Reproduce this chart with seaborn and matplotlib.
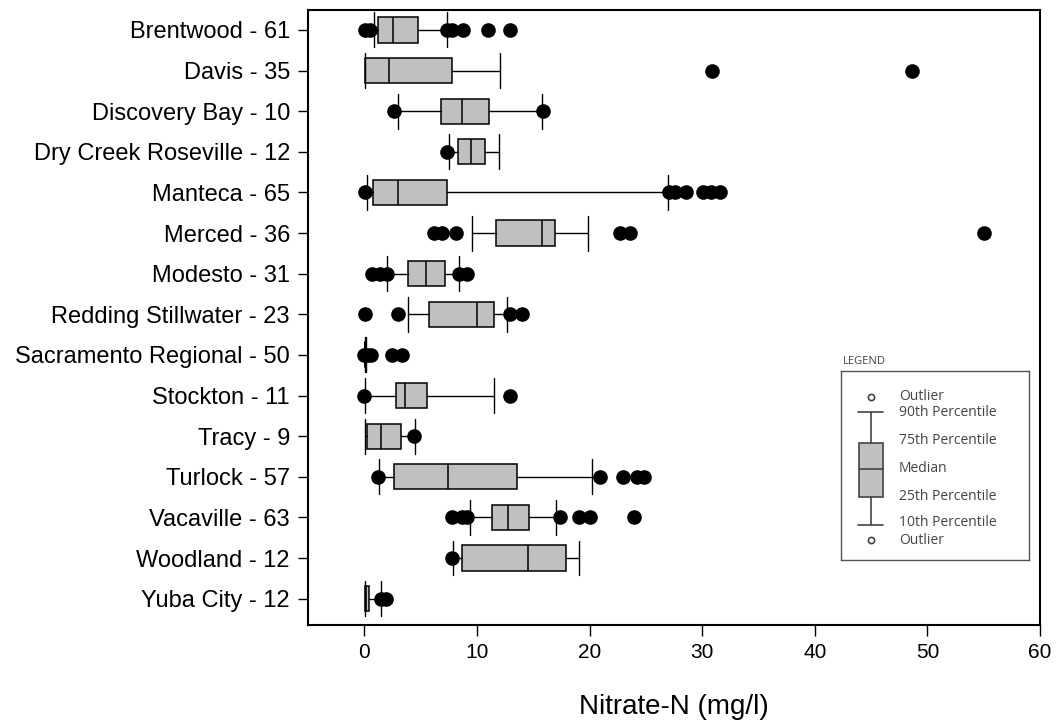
import matplotlib
matplotlib.use("Agg")
import matplotlib.pyplot as plt
from matplotlib.patches import Rectangle
import seaborn as sns
import pandas as pd

# site labels (name - sample count)
sites = ["Brentwood - 61", "Davis - 35", "Discovery Bay - 10", "Dry Creek Roseville - 12",
         "Manteca - 65", "Merced - 36", "Modesto - 31", "Redding Stillwater - 23",
         "Sacramento Regional - 50", "Stockton - 11", "Tracy - 9", "Turlock - 57",
         "Vacaville - 63", "Woodland - 12", "Yuba City - 12"]

# percentiles (mg/l)
p10 = [0.83, 0.05, 3.0, 7.55, 0.25, 9.55, 2.05, 3.85, 0.05, 0.03, 0.05, 1.3, 9.4, 7.9, 0.05]
p25 = [1.2, 0.1, 6.85, 8.35, 0.75, 11.7, 3.85, 5.75, 0.08, 2.85, 0.2, 2.65, 11.35, 8.65, 0.05]
p50 = [2.55, 2.15, 8.65, 9.45, 2.95, 15.75, 5.45, 10.05, 0.1, 3.65, 1.5, 7.4, 12.75, 14.55, 0.15]
p75 = [4.75, 7.8, 11.05, 10.75, 7.35, 16.9, 7.15, 11.55, 0.12, 5.6, 3.25, 13.55, 14.65, 17.9, 0.4]
p90 = [7.3, 12.05, 15.8, 12.0, 27.0, 19.9, 8.45, 12.65, 0.15, 11.55, 4.5, 20.25, 17.05, 19.05, 1.45]

# outliers per site
outliers = [
    [0.1, 0.5, 7.3, 7.8, 8.8, 11.0, 12.95],
    [30.9, 48.6],
    [2.65, 15.9],
    [7.35],
    [0.1, 27.1, 27.6, 28.6, 30.1, 30.8, 31.6],
    [6.15, 6.9, 8.15, 22.7, 23.6, 55.0],
    [0.7, 1.4, 2.0, 8.4, 9.1],
    [0.1, 3.0, 12.95, 14.0],
    [0.0, 0.2, 0.6, 2.45, 3.35],
    [0.0, 12.95],
    [4.45],
    [1.2, 20.95, 22.95, 24.25, 24.85],
    [7.8, 8.65, 9.1, 17.4, 19.1, 20.0, 23.95],
    [7.8],
    [1.45, 1.95],
]

xticks = [0, 10, 20, 30, 40, 50, 60]

sns.set_style("ticks")
plt.rcParams['font.family'] = ['Liberation Sans', 'DejaVu Sans']
plt.rcParams['text.color'] = 'black'
plt.rcParams['axes.labelcolor'] = 'black'
plt.rcParams['xtick.color'] = 'black'
plt.rcParams['ytick.color'] = 'black'

fig = plt.figure(figsize=(10.57, 7.21), dpi=100)
ax = fig.add_axes([0.2914, 0.1331, 0.6925, 0.8530])

stats = []
for i, s in enumerate(sites):
    stats.append(dict(label=s, whislo=p10[i], q1=p25[i], med=p50[i], q3=p75[i],
                      whishi=p90[i], fliers=[]))

ax.bxp(stats, positions=range(len(sites)), orientation='horizontal', widths=0.62,
       capwidths=0.86, showfliers=False, patch_artist=True,
       boxprops=dict(facecolor='#c0c0c0', edgecolor='black', linewidth=1.1),
       medianprops=dict(color='black', linewidth=1.1),
       whiskerprops=dict(color='black', linewidth=1.0),
       capprops=dict(color='black', linewidth=1.0))

# outlier dots
out_df = pd.DataFrame([(s, v) for s, vals in zip(sites, outliers) for v in vals],
                      columns=['site', 'value'])
out_df['pos'] = out_df['site'].map({s: i for i, s in enumerate(sites)})
ax.plot(out_df['value'], out_df['pos'], 'o', color='black', markersize=9.5,
        linestyle='none', zorder=3)

ax.set_xlim(-5, 60)
ax.set_ylim(14.65, -0.49)
ax.set_xticks(xticks)
ax.set_xticklabels([str(t) for t in xticks], fontsize=15)
ax.set_yticks(range(len(sites)))
ax.set_yticklabels(sites, fontsize=17)
ax.tick_params(axis='x', length=8, width=1.0, pad=5, colors='black')
ax.tick_params(axis='y', length=7, width=1.0, pad=6, colors='black')
ax.set_xlabel("Nitrate-N (mg/l)", fontsize=20, labelpad=23, color='black')
ax.set_ylabel("")
for sp in ax.spines.values():
    sp.set_visible(True)
    sp.set_color('black')
    sp.set_linewidth(1.5)

# legend explaining the box glyph
lg = fig.add_axes([841 / 1057, 1 - 560 / 721, 188 / 1057, 189 / 721])
lg.set_xlim(0, 188)
lg.set_ylim(189, 0)
lg.set_xticks([])
lg.set_yticks([])
for sp in lg.spines.values():
    sp.set_color('#555555')
    sp.set_linewidth(1.0)
gc = '#444444'
lg.plot([30, 30], [41, 72], color=gc, lw=1.2)
lg.plot([30, 30], [126, 154], color=gc, lw=1.2)
lg.plot([17, 42], [41, 41], color=gc, lw=1.2)
lg.plot([17, 42], [154, 154], color=gc, lw=1.2)
lg.add_patch(Rectangle((18, 72), 24, 54, facecolor='#c0c0c0', edgecolor=gc, lw=1.2))
lg.plot([18, 42], [98, 98], color=gc, lw=1.2)
lg.plot([30, 30], [26, 169], 'o', mfc='white', mec=gc, ms=4.5, mew=1.2, linestyle='none')
labels = [("Outlier", 26), ("90th Percentile", 42), ("75th Percentile", 70),
          ("Median", 98), ("25th Percentile", 126), ("10th Percentile", 152),
          ("Outlier", 169)]
for txt, yy in labels:
    lg.text(58, yy, txt, fontsize=10, color=gc, va='center', ha='left',
            family=['Open Sans', 'DejaVu Sans'])
fig.text(843 / 1057, 1 - 362 / 721, "LEGEND", fontsize=8, color=gc, va='center',
         ha='left', family=['Open Sans', 'DejaVu Sans'])

fig.savefig("out.png", dpi=100)
